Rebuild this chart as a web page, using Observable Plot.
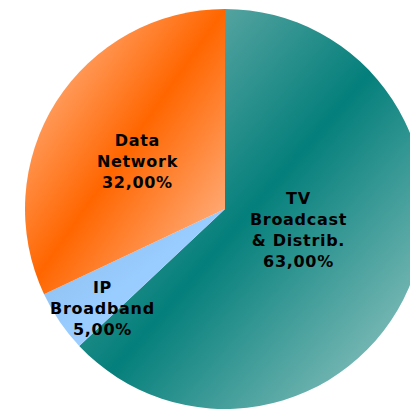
<!DOCTYPE html>
<html>
<head>
<meta charset="utf-8">
<script src="https://cdn.jsdelivr.net/npm/d3@7"></script>
<script src="https://cdn.jsdelivr.net/npm/@observablehq/plot@0.6"></script>
<style>
  html, body { margin: 0; padding: 0; background: #ffffff; }
  #chart svg { display: block; }
  #chart text { letter-spacing: 0.7px; }
</style>
</head>
<body>
<div id="chart"></div>
<script>
// ---- data ----
const categories = ["TV Broadcast & Distrib.", "IP Broadband", "Data Network"];
const labelLines = [["TV", "Broadcast", "& Distrib."], ["IP", "Broadband"], ["Data", "Network"]];
const shares = [63, 5, 32];

// ---- style ----
const gradients = [
  {id: "gTV", stops: [["0%", "#8ebdba"], ["50%", "#047f7b"], ["100%", "#a3cdca"]]},
  {id: "gIP", stops: [["0%", "#8ab8e6"], ["50%", "#99ccff"], ["100%", "#a6d2ff"]]},
  {id: "gDN", stops: [["0%", "#ffc6a6"], ["50%", "#ff6600"], ["100%", "#ffc3a2"]]}
];
// label placement: radius fraction and angle offset (degrees) from the slice mid-angle
const labelR = [0.377, 0.786, 0.504];
const labelDA = [-8.8, -4.3, -3.3];

const pie = d3.pie().sort(null).value(d => d.share);
const table = categories.map((c, i) => ({category: c, share: shares[i], i}));
const arcs = pie(table);
const labels = arcs.map((a, i) => {
  const ang = (a.startAngle + a.endAngle) / 2 + labelDA[i] * Math.PI / 180;
  return {
    x: labelR[i] * Math.sin(ang),
    y: labelR[i] * Math.cos(ang),
    text: [...labelLines[i], a.data.share.toFixed(2).replace(".", ",") + "%"].join("\n")
  };
});

const defsMark = () => {
  const g = d3.create("svg:g");
  const defs = g.append("defs");
  for (const gr of gradients) {
    const lg = defs.append("linearGradient").attr("id", gr.id)
      .attr("x1", 0).attr("y1", 0).attr("x2", 1).attr("y2", 1);
    for (const [o, c] of gr.stops) lg.append("stop").attr("offset", o).attr("stop-color", c);
  }
  return g.node();
};

const pieMark = (index, scales) => {
  const sx = scales.x, sy = scales.y;
  const cx = sx(0), cy = sy(0), r = sx(1) - sx(0);
  const arc = d3.arc().innerRadius(0).outerRadius(r);
  const g = d3.create("svg:g").attr("transform", `translate(${cx},${cy})`);
  g.selectAll("path").data(arcs).join("path")
    .attr("d", arc)
    .attr("fill", (d, i) => `url(#${gradients[i].id})`);
  return g.node();
};

const chart = Plot.plot({
  width: 410,
  height: 410,
  margin: 0,
  x: {domain: [-1.125, 0.925], axis: null},
  y: {domain: [-1.005, 1.045], axis: null},
  marks: [
    defsMark,
    pieMark,
    Plot.text(labels, {
      x: "x", y: "y", text: "text",
      fontSize: 16, fontWeight: "bold", fontFamily: "DejaVu Sans",
      lineHeight: 1.31, lineAnchor: "middle", textAnchor: "middle", fill: "#000"
    })
  ]
});
document.getElementById("chart").appendChild(chart);
</script>
</body>
</html>
